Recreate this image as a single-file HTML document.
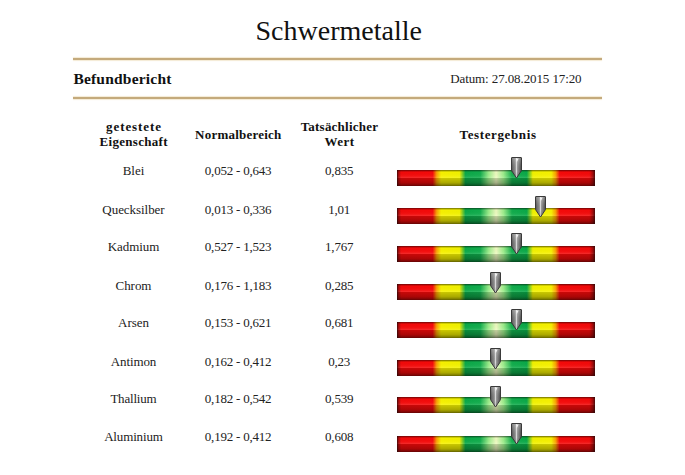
<!DOCTYPE html><html><head><meta charset="utf-8"><style>
html,body{margin:0;padding:0}
body{width:685px;height:475px;position:relative;overflow:hidden;background:#fff;font-family:"Liberation Serif",serif;}
.bar{position:absolute;filter:blur(0.55px);}
.ptr{position:absolute;}
</style></head><body>
<svg width="0" height="0" style="position:absolute">
<defs>
<linearGradient id="hc" x1="0" x2="1" y1="0" y2="0"><stop offset="0.0" stop-color="#f00a0a"/><stop offset="0.18" stop-color="#f50a0a"/><stop offset="0.2" stop-color="#f8a000"/><stop offset="0.222" stop-color="#f6f000"/><stop offset="0.315" stop-color="#f0f000"/><stop offset="0.345" stop-color="#0aa848"/><stop offset="0.42" stop-color="#12ac4c"/><stop offset="0.462" stop-color="#98ea88"/><stop offset="0.5" stop-color="#eef8c0"/><stop offset="0.538" stop-color="#98ea88"/><stop offset="0.58" stop-color="#12ac4c"/><stop offset="0.655" stop-color="#0aa848"/><stop offset="0.685" stop-color="#f0f000"/><stop offset="0.778" stop-color="#f6f000"/><stop offset="0.8" stop-color="#f8a000"/><stop offset="0.82" stop-color="#f50a0a"/><stop offset="1.0" stop-color="#f00a0a"/></linearGradient>
<linearGradient id="vs" x1="0" x2="0" y1="0" y2="1">
<stop offset="0" stop-color="#000" stop-opacity="0.55"/>
<stop offset="0.07" stop-color="#000" stop-opacity="0.25"/>
<stop offset="0.13" stop-color="#000" stop-opacity="0.0"/>
<stop offset="0.38" stop-color="#fff" stop-opacity="0.04"/>
<stop offset="0.47" stop-color="#fff" stop-opacity="0.12"/>
<stop offset="0.53" stop-color="#000" stop-opacity="0.18"/>
<stop offset="0.80" stop-color="#000" stop-opacity="0.3"/>
<stop offset="0.92" stop-color="#000" stop-opacity="0.45"/>
<stop offset="1" stop-color="#000" stop-opacity="0.6"/>
</linearGradient>
<linearGradient id="ends" x1="0" x2="1" y1="0" y2="0">
<stop offset="0" stop-color="#200808" stop-opacity="0.85"/>
<stop offset="0.007" stop-color="#200808" stop-opacity="0.4"/>
<stop offset="0.02" stop-color="#200808" stop-opacity="0"/>
<stop offset="0.97" stop-color="#200808" stop-opacity="0"/>
<stop offset="0.988" stop-color="#200808" stop-opacity="0.4"/>
<stop offset="1" stop-color="#200808" stop-opacity="0.85"/>
</linearGradient>
<linearGradient id="pg" x1="0" x2="1" y1="0" y2="0">
<stop offset="0" stop-color="#444"/>
<stop offset="0.14" stop-color="#6e6e6e"/>
<stop offset="0.38" stop-color="#8c8c8c"/>
<stop offset="0.50" stop-color="#d8d8d8"/>
<stop offset="0.60" stop-color="#979797"/>
<stop offset="0.86" stop-color="#646464"/>
<stop offset="1" stop-color="#424242"/>
</linearGradient>
<linearGradient id="pv" x1="0" x2="0" y1="0" y2="1">
<stop offset="0" stop-color="#fff" stop-opacity="0.25"/>
<stop offset="0.35" stop-color="#fff" stop-opacity="0.05"/>
<stop offset="0.7" stop-color="#000" stop-opacity="0.0"/>
<stop offset="1" stop-color="#000" stop-opacity="0.15"/>
</linearGradient>
</defs></svg>
<div style="position:absolute;top:14.45px;line-height:34px;font-size:28px;font-weight:400;white-space:nowrap;color:#111;letter-spacing:0px;left:188.70px;width:300px;text-align:center;">Schwermetalle</div>
<div style="position:absolute;left:73px;width:529px;top:58px;height:2px;background:#c4aa7c;box-shadow:0 1px 1px #f4ead4,0 -1px 1px #f4ead4"></div>
<div style="position:absolute;left:73px;width:529px;top:97.3px;height:2px;background:#c4aa7c;box-shadow:0 1px 1px #f4ead4,0 -1px 1px #f4ead4"></div>
<div style="position:absolute;top:69.27px;line-height:19px;font-size:15.5px;font-weight:700;white-space:nowrap;color:#111;letter-spacing:0.2px;left:73.40px;">Befundbericht</div>
<div style="position:absolute;top:70.61px;line-height:16px;font-size:13px;font-weight:400;white-space:nowrap;color:#222;letter-spacing:-0.1px;right:103.50px;text-align:right;">Datum: 27.08.2015 17:20</div>
<div style="position:absolute;top:118.81px;line-height:16px;font-size:13px;font-weight:700;white-space:nowrap;color:#111;letter-spacing:0.9px;left:-16.05px;width:300px;text-align:center;">getestete</div>
<div style="position:absolute;top:134.11px;line-height:16px;font-size:13px;font-weight:700;white-space:nowrap;color:#111;letter-spacing:0.3px;left:-16.35px;width:300px;text-align:center;">Eigenschaft</div>
<div style="position:absolute;top:127.11px;line-height:16px;font-size:13px;font-weight:700;white-space:nowrap;color:#111;letter-spacing:0.22px;left:88.30px;width:300px;text-align:center;">Normalbereich</div>
<div style="position:absolute;top:118.61px;line-height:16px;font-size:13px;font-weight:700;white-space:nowrap;color:#111;letter-spacing:0.22px;left:189.40px;width:300px;text-align:center;">Tatsächlicher</div>
<div style="position:absolute;top:134.01px;line-height:16px;font-size:13px;font-weight:700;white-space:nowrap;color:#111;letter-spacing:0.45px;left:189.55px;width:300px;text-align:center;">Wert</div>
<div style="position:absolute;top:126.91px;line-height:16px;font-size:13px;font-weight:700;white-space:nowrap;color:#111;letter-spacing:0.62px;left:348.10px;width:300px;text-align:center;">Testergebnis</div>
<div style="position:absolute;top:162.61px;line-height:16px;font-size:13px;font-weight:400;white-space:nowrap;color:#222;letter-spacing:-0.05px;left:-16.53px;width:300px;text-align:center;">Blei</div>
<div style="position:absolute;top:162.61px;line-height:16px;font-size:13px;font-weight:400;white-space:nowrap;color:#222;letter-spacing:-0.22px;left:88.10px;width:300px;text-align:center;">0,052 - 0,643</div>
<div style="position:absolute;top:162.61px;line-height:16px;font-size:13px;font-weight:400;white-space:nowrap;color:#222;letter-spacing:-0.2px;left:189.20px;width:300px;text-align:center;">0,835</div>
<svg class="bar" style="left:397px;top:170.40px" width="198.3" height="16" viewBox="0 0 198.3 16"><rect width="198.3" height="16" fill="url(#hc)"/><rect width="198.3" height="16" fill="url(#vs)"/><rect width="198.3" height="16" fill="url(#ends)"/></svg>
<svg class="ptr" style="left:511.10px;top:157.00px" width="11" height="21.5" viewBox="0 0 11 21.5"><path d="M0.5 0.9 Q0.5 0.5 0.9 0.5 L10.1 0.5 Q10.5 0.5 10.5 0.9 L10.5 13.6 L5.5 21 L0.5 13.6 Z" fill="url(#pg)" stroke="#3a3a3a" stroke-width="1"/><path d="M1 1 L10 1 L10 13.6 L5.5 20.3 L1 13.6 Z" fill="url(#pv)"/><path d="M5.2 1.4 L7.6 1.4 L5.8 5.2 Z" fill="#fff" opacity="0.85"/></svg>
<div style="position:absolute;top:201.61px;line-height:16px;font-size:13px;font-weight:400;white-space:nowrap;color:#222;letter-spacing:-0.05px;left:-16.53px;width:300px;text-align:center;">Quecksilber</div>
<div style="position:absolute;top:201.61px;line-height:16px;font-size:13px;font-weight:400;white-space:nowrap;color:#222;letter-spacing:-0.22px;left:88.10px;width:300px;text-align:center;">0,013 - 0,336</div>
<div style="position:absolute;top:201.61px;line-height:16px;font-size:13px;font-weight:400;white-space:nowrap;color:#222;letter-spacing:-0.2px;left:189.20px;width:300px;text-align:center;">1,01</div>
<svg class="bar" style="left:397px;top:207.60px" width="198.3" height="16" viewBox="0 0 198.3 16"><rect width="198.3" height="16" fill="url(#hc)"/><rect width="198.3" height="16" fill="url(#vs)"/><rect width="198.3" height="16" fill="url(#ends)"/></svg>
<svg class="ptr" style="left:535.00px;top:195.70px" width="11" height="21.5" viewBox="0 0 11 21.5"><path d="M0.5 0.9 Q0.5 0.5 0.9 0.5 L10.1 0.5 Q10.5 0.5 10.5 0.9 L10.5 13.6 L5.5 21 L0.5 13.6 Z" fill="url(#pg)" stroke="#3a3a3a" stroke-width="1"/><path d="M1 1 L10 1 L10 13.6 L5.5 20.3 L1 13.6 Z" fill="url(#pv)"/><path d="M5.2 1.4 L7.6 1.4 L5.8 5.2 Z" fill="#fff" opacity="0.85"/></svg>
<div style="position:absolute;top:238.61px;line-height:16px;font-size:13px;font-weight:400;white-space:nowrap;color:#222;letter-spacing:-0.05px;left:-16.53px;width:300px;text-align:center;">Kadmium</div>
<div style="position:absolute;top:238.61px;line-height:16px;font-size:13px;font-weight:400;white-space:nowrap;color:#222;letter-spacing:-0.22px;left:88.10px;width:300px;text-align:center;">0,527 - 1,523</div>
<div style="position:absolute;top:238.61px;line-height:16px;font-size:13px;font-weight:400;white-space:nowrap;color:#222;letter-spacing:-0.2px;left:189.20px;width:300px;text-align:center;">1,767</div>
<svg class="bar" style="left:397px;top:246.10px" width="198.3" height="16" viewBox="0 0 198.3 16"><rect width="198.3" height="16" fill="url(#hc)"/><rect width="198.3" height="16" fill="url(#vs)"/><rect width="198.3" height="16" fill="url(#ends)"/></svg>
<svg class="ptr" style="left:511.10px;top:233.20px" width="11" height="21.5" viewBox="0 0 11 21.5"><path d="M0.5 0.9 Q0.5 0.5 0.9 0.5 L10.1 0.5 Q10.5 0.5 10.5 0.9 L10.5 13.6 L5.5 21 L0.5 13.6 Z" fill="url(#pg)" stroke="#3a3a3a" stroke-width="1"/><path d="M1 1 L10 1 L10 13.6 L5.5 20.3 L1 13.6 Z" fill="url(#pv)"/><path d="M5.2 1.4 L7.6 1.4 L5.8 5.2 Z" fill="#fff" opacity="0.85"/></svg>
<div style="position:absolute;top:277.61px;line-height:16px;font-size:13px;font-weight:400;white-space:nowrap;color:#222;letter-spacing:-0.05px;left:-16.53px;width:300px;text-align:center;">Chrom</div>
<div style="position:absolute;top:277.61px;line-height:16px;font-size:13px;font-weight:400;white-space:nowrap;color:#222;letter-spacing:-0.22px;left:88.10px;width:300px;text-align:center;">0,176 - 1,183</div>
<div style="position:absolute;top:277.61px;line-height:16px;font-size:13px;font-weight:400;white-space:nowrap;color:#222;letter-spacing:-0.2px;left:189.20px;width:300px;text-align:center;">0,285</div>
<svg class="bar" style="left:397px;top:283.50px" width="198.3" height="16" viewBox="0 0 198.3 16"><rect width="198.3" height="16" fill="url(#hc)"/><rect width="198.3" height="16" fill="url(#vs)"/><rect width="198.3" height="16" fill="url(#ends)"/></svg>
<svg class="ptr" style="left:490.10px;top:271.90px" width="11" height="21.5" viewBox="0 0 11 21.5"><path d="M0.5 0.9 Q0.5 0.5 0.9 0.5 L10.1 0.5 Q10.5 0.5 10.5 0.9 L10.5 13.6 L5.5 21 L0.5 13.6 Z" fill="url(#pg)" stroke="#3a3a3a" stroke-width="1"/><path d="M1 1 L10 1 L10 13.6 L5.5 20.3 L1 13.6 Z" fill="url(#pv)"/><path d="M5.2 1.4 L7.6 1.4 L5.8 5.2 Z" fill="#fff" opacity="0.85"/></svg>
<div style="position:absolute;top:314.61px;line-height:16px;font-size:13px;font-weight:400;white-space:nowrap;color:#222;letter-spacing:-0.05px;left:-16.53px;width:300px;text-align:center;">Arsen</div>
<div style="position:absolute;top:314.61px;line-height:16px;font-size:13px;font-weight:400;white-space:nowrap;color:#222;letter-spacing:-0.22px;left:88.10px;width:300px;text-align:center;">0,153 - 0,621</div>
<div style="position:absolute;top:314.61px;line-height:16px;font-size:13px;font-weight:400;white-space:nowrap;color:#222;letter-spacing:-0.2px;left:189.20px;width:300px;text-align:center;">0,681</div>
<svg class="bar" style="left:397px;top:322.10px" width="198.3" height="16" viewBox="0 0 198.3 16"><rect width="198.3" height="16" fill="url(#hc)"/><rect width="198.3" height="16" fill="url(#vs)"/><rect width="198.3" height="16" fill="url(#ends)"/></svg>
<svg class="ptr" style="left:511.10px;top:309.10px" width="11" height="21.5" viewBox="0 0 11 21.5"><path d="M0.5 0.9 Q0.5 0.5 0.9 0.5 L10.1 0.5 Q10.5 0.5 10.5 0.9 L10.5 13.6 L5.5 21 L0.5 13.6 Z" fill="url(#pg)" stroke="#3a3a3a" stroke-width="1"/><path d="M1 1 L10 1 L10 13.6 L5.5 20.3 L1 13.6 Z" fill="url(#pv)"/><path d="M5.2 1.4 L7.6 1.4 L5.8 5.2 Z" fill="#fff" opacity="0.85"/></svg>
<div style="position:absolute;top:353.61px;line-height:16px;font-size:13px;font-weight:400;white-space:nowrap;color:#222;letter-spacing:-0.1px;left:-16.55px;width:300px;text-align:center;">Antimon</div>
<div style="position:absolute;top:353.61px;line-height:16px;font-size:13px;font-weight:400;white-space:nowrap;color:#222;letter-spacing:-0.22px;left:88.10px;width:300px;text-align:center;">0,162 - 0,412</div>
<div style="position:absolute;top:353.61px;line-height:16px;font-size:13px;font-weight:400;white-space:nowrap;color:#222;letter-spacing:-0.2px;left:189.20px;width:300px;text-align:center;">0,23</div>
<svg class="bar" style="left:397px;top:359.50px" width="198.3" height="16" viewBox="0 0 198.3 16"><rect width="198.3" height="16" fill="url(#hc)"/><rect width="198.3" height="16" fill="url(#vs)"/><rect width="198.3" height="16" fill="url(#ends)"/></svg>
<svg class="ptr" style="left:490.10px;top:347.70px" width="11" height="21.5" viewBox="0 0 11 21.5"><path d="M0.5 0.9 Q0.5 0.5 0.9 0.5 L10.1 0.5 Q10.5 0.5 10.5 0.9 L10.5 13.6 L5.5 21 L0.5 13.6 Z" fill="url(#pg)" stroke="#3a3a3a" stroke-width="1"/><path d="M1 1 L10 1 L10 13.6 L5.5 20.3 L1 13.6 Z" fill="url(#pv)"/><path d="M5.2 1.4 L7.6 1.4 L5.8 5.2 Z" fill="#fff" opacity="0.85"/></svg>
<div style="position:absolute;top:390.61px;line-height:16px;font-size:13px;font-weight:400;white-space:nowrap;color:#222;letter-spacing:-0.2px;left:-16.60px;width:300px;text-align:center;">Thallium</div>
<div style="position:absolute;top:390.61px;line-height:16px;font-size:13px;font-weight:400;white-space:nowrap;color:#222;letter-spacing:-0.22px;left:88.10px;width:300px;text-align:center;">0,182 - 0,542</div>
<div style="position:absolute;top:390.61px;line-height:16px;font-size:13px;font-weight:400;white-space:nowrap;color:#222;letter-spacing:-0.2px;left:189.20px;width:300px;text-align:center;">0,539</div>
<svg class="bar" style="left:397px;top:397.20px" width="198.3" height="16" viewBox="0 0 198.3 16"><rect width="198.3" height="16" fill="url(#hc)"/><rect width="198.3" height="16" fill="url(#vs)"/><rect width="198.3" height="16" fill="url(#ends)"/></svg>
<svg class="ptr" style="left:490.10px;top:385.50px" width="11" height="21.5" viewBox="0 0 11 21.5"><path d="M0.5 0.9 Q0.5 0.5 0.9 0.5 L10.1 0.5 Q10.5 0.5 10.5 0.9 L10.5 13.6 L5.5 21 L0.5 13.6 Z" fill="url(#pg)" stroke="#3a3a3a" stroke-width="1"/><path d="M1 1 L10 1 L10 13.6 L5.5 20.3 L1 13.6 Z" fill="url(#pv)"/><path d="M5.2 1.4 L7.6 1.4 L5.8 5.2 Z" fill="#fff" opacity="0.85"/></svg>
<div style="position:absolute;top:428.61px;line-height:16px;font-size:13px;font-weight:400;white-space:nowrap;color:#222;letter-spacing:-0.15px;left:-16.57px;width:300px;text-align:center;">Aluminium</div>
<div style="position:absolute;top:428.61px;line-height:16px;font-size:13px;font-weight:400;white-space:nowrap;color:#222;letter-spacing:-0.22px;left:88.10px;width:300px;text-align:center;">0,192 - 0,412</div>
<div style="position:absolute;top:428.61px;line-height:16px;font-size:13px;font-weight:400;white-space:nowrap;color:#222;letter-spacing:-0.2px;left:189.20px;width:300px;text-align:center;">0,608</div>
<svg class="bar" style="left:397px;top:435.50px" width="198.3" height="16" viewBox="0 0 198.3 16"><rect width="198.3" height="16" fill="url(#hc)"/><rect width="198.3" height="16" fill="url(#vs)"/><rect width="198.3" height="16" fill="url(#ends)"/></svg>
<svg class="ptr" style="left:511.10px;top:422.90px" width="11" height="21.5" viewBox="0 0 11 21.5"><path d="M0.5 0.9 Q0.5 0.5 0.9 0.5 L10.1 0.5 Q10.5 0.5 10.5 0.9 L10.5 13.6 L5.5 21 L0.5 13.6 Z" fill="url(#pg)" stroke="#3a3a3a" stroke-width="1"/><path d="M1 1 L10 1 L10 13.6 L5.5 20.3 L1 13.6 Z" fill="url(#pv)"/><path d="M5.2 1.4 L7.6 1.4 L5.8 5.2 Z" fill="#fff" opacity="0.85"/></svg>
</body></html>
